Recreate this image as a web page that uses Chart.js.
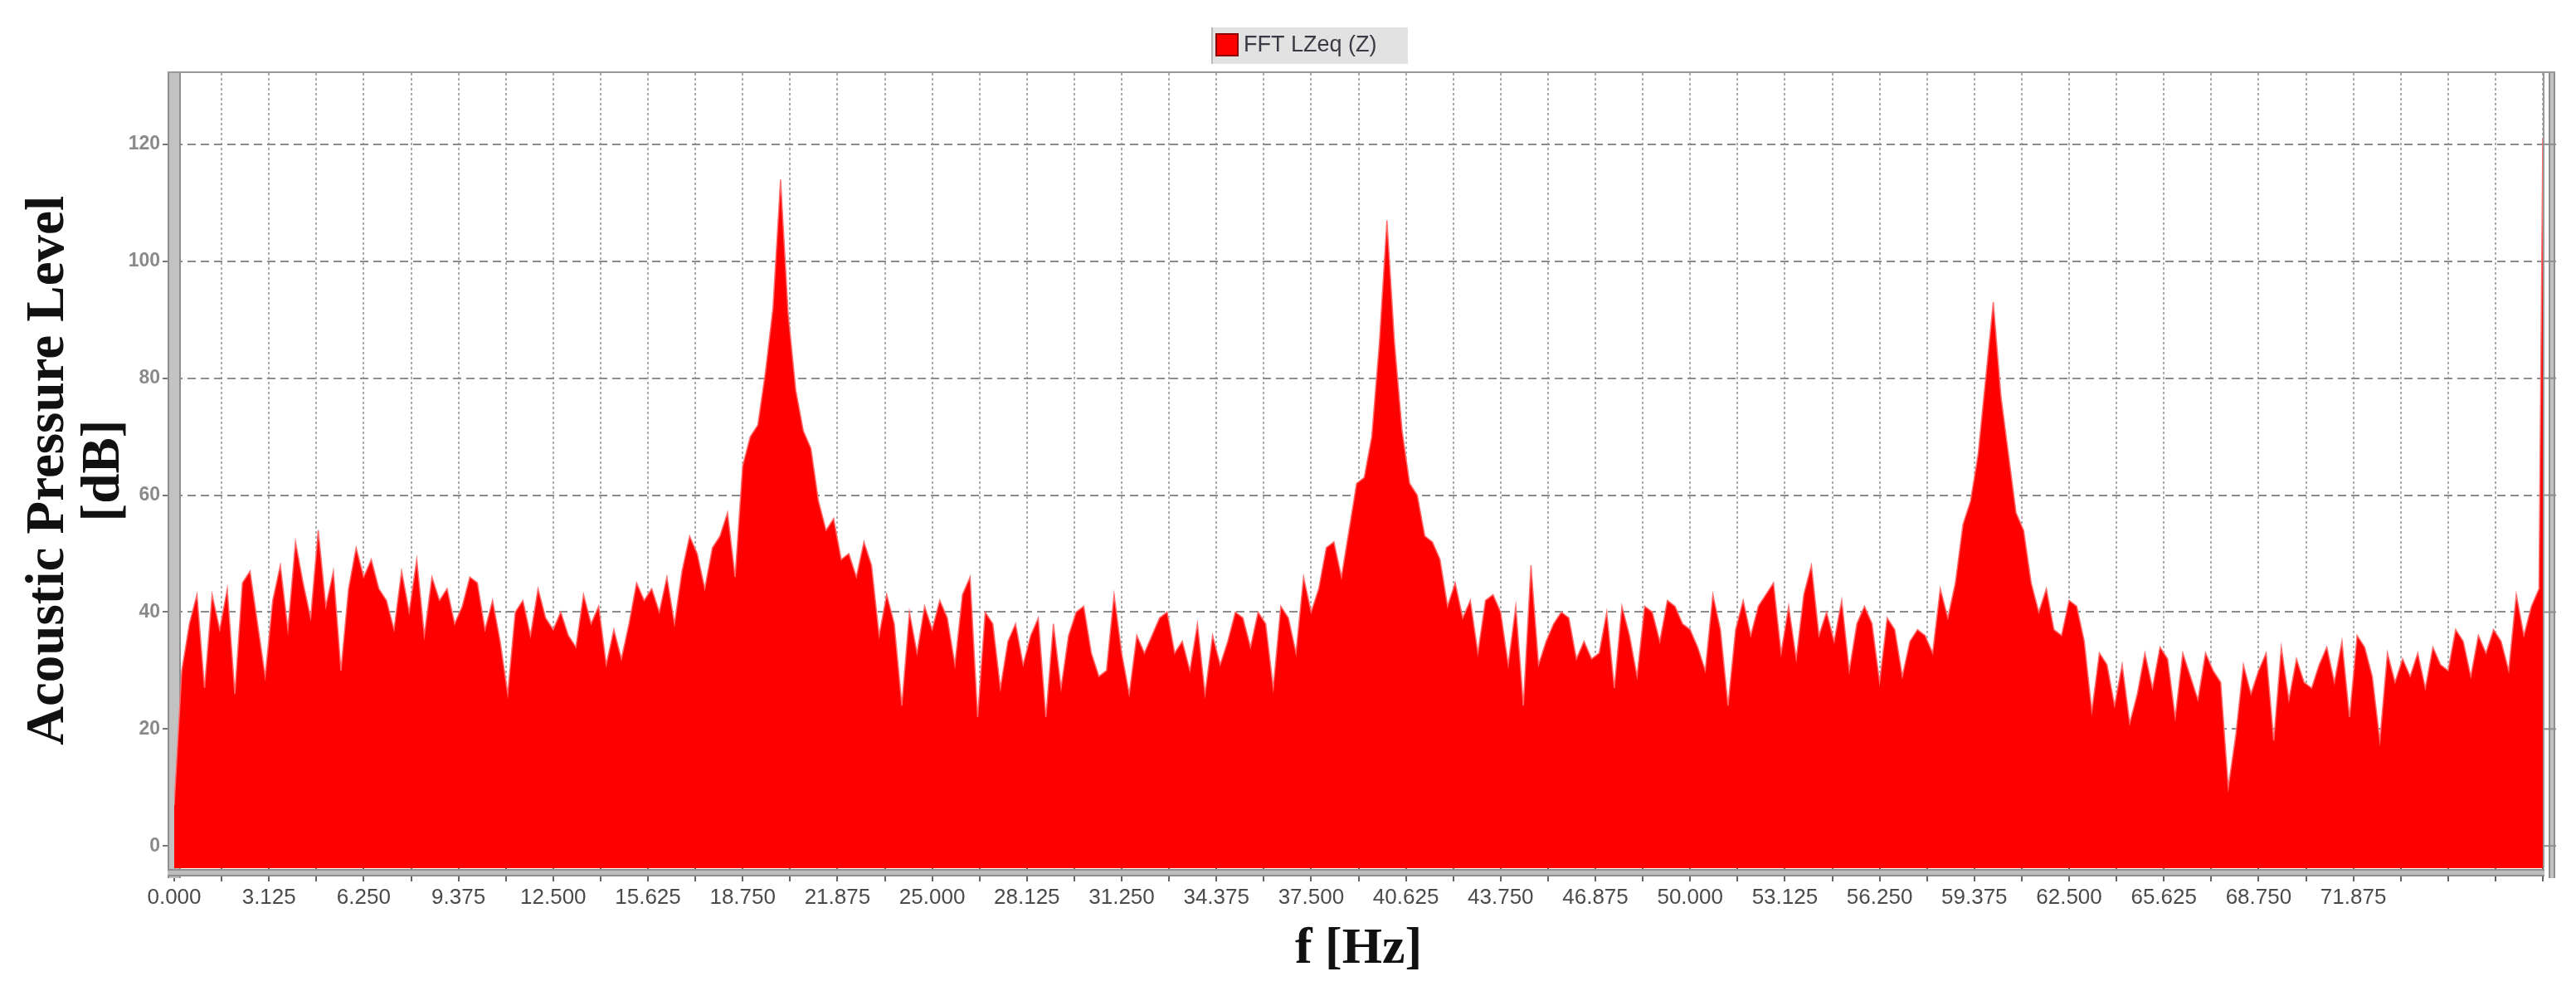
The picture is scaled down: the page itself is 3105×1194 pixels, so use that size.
<!DOCTYPE html>
<html>
<head>
<meta charset="utf-8">
<title>FFT LZeq (Z)</title>
<script src="https://cdn.jsdelivr.net/npm/chart.js@4.4.1/dist/chart.umd.min.js"></script>
<style>
  html, body { margin: 0; padding: 0; background: #fff; }
  #wrap { width: 3105px; height: 1194px; }
</style>
</head>
<body>
<div id="wrap"><canvas id="fft" width="3105" height="1194"></canvas></div>
<script>
/* FFT LZeq (Z) — acoustic pressure level spectrum, 0 … 78.125 Hz */

// one level per 0.25 Hz bin, starting at 0 Hz
const binHz = 0.25;
const levels = [
  // 0 – 15.5 Hz
  7, 30, 38, 43, 27, 43, 37, 44, 26, 45,
  47, 38, 29, 42, 48, 37, 52, 45, 39, 54,
  41, 47, 30, 44, 51, 46, 49, 44, 42, 37,
  47, 40, 49, 36, 46, 42, 44, 38, 41, 46,
  45, 37, 42, 35, 26, 40, 42, 36, 44, 39,
  37, 40, 36, 34, 43, 38, 41, 31, 37, 32,
  38, 45, 42,
  // 15.75 – 31.75 Hz (first harmonic ~20 Hz)
  44, 40, 46, 38, 47, 53, 50, 44, 51, 53,
  57, 46, 65, 70, 72, 81, 92, 114, 91, 78,
  71, 68, 59, 54, 56, 49, 50, 46, 52, 48,
  36, 43, 38, 24, 40, 33, 41, 37, 42, 39,
  31, 43, 46, 22, 40, 38, 27, 35, 38, 31,
  36, 39, 22, 38, 27, 36, 40, 41, 33, 29,
  30, 43, 33, 26, 36,
  // 32 – 47.75 Hz (~40 Hz)
  33, 36, 39, 40, 33, 35, 30, 38, 26, 36,
  31, 35, 40, 39, 34, 40, 38, 27, 41, 39,
  33, 46, 40, 44, 51, 52, 46, 54, 62, 63,
  70, 86, 107, 86, 71, 62, 60, 53, 52, 49,
  41, 45, 39, 42, 33, 42, 43, 40, 31, 41,
  24, 48, 31, 35, 38, 40, 39, 32, 35, 32,
  33, 40, 27, 41,
  // 48 – 64 Hz (~60 Hz)
  36, 29, 41, 40, 35, 42, 41, 38, 37, 34,
  30, 43, 37, 24, 37, 42, 36, 41, 43, 45,
  33, 41, 32, 43, 48, 36, 40, 35, 42, 30,
  38, 41, 38, 28, 39, 37, 29, 35, 37, 36,
  33, 44, 39, 45, 55, 59, 67, 80, 93, 77,
  67, 57, 54, 45, 40, 44, 37, 36, 42, 41,
  35, 23, 33, 31, 24,
  // 64.25 – 78 Hz
  31, 21, 26, 33, 27, 34, 32, 22, 33, 29,
  25, 33, 30, 28, 10, 19, 31, 26, 30, 33,
  18, 34, 25, 32, 28, 27, 31, 34, 28, 35,
  22, 36, 34, 29, 18, 33, 28, 32, 29, 33,
  27, 34, 31, 30, 37, 35, 29, 36, 33, 37,
  35, 30, 43, 36, 41, 44
];
// last bin sits on the upper edge of the band
const edgeHz = 78.125;
const edgeLevel = 121;

const yTicks = [0, 20, 40, 60, 80, 100, 120];
const xTickLabels = [
  '0.000', '3.125', '6.250', '9.375', '12.500', '15.625', '18.750', '21.875',
  '25.000', '28.125', '31.250', '34.375', '37.500', '40.625', '43.750', '46.875',
  '50.000', '53.125', '56.250', '59.375', '62.500', '65.625', '68.750', '71.875'
];

const freqs = levels.map((_, i) => i * binHz).concat(edgeHz);
const spectrum = levels.concat(edgeLevel);
const points = freqs.map((f, i) => ({ x: f, y: spectrum[i] }));

/* ── gray scale bars around the plot ─────────────── */
const frame = {
  id: 'frame',
  beforeDatasetsDraw(chart) {
    const { ctx, chartArea: a } = chart;
    const h = a.bottom - a.top + 12;
    ctx.save();
    ctx.fillStyle = '#c2c2c2';
    ctx.fillRect(a.left - 8, a.top, 16, h);
    ctx.fillStyle = '#8e8e8e';
    ctx.fillRect(a.left - 8, a.top, 2, h);
    ctx.fillRect(a.left + 6, a.top, 2, h);
    ctx.restore();
  },
  afterDatasetsDraw(chart) {
    const { ctx, chartArea: a, scales: { y } } = chart;
    const h = a.bottom - a.top + 12;
    ctx.save();
    ctx.fillStyle = '#9a9a9a';
    ctx.fillRect(a.left - 8, a.top - 2, a.right - a.left + 23, 2);
    ctx.fillRect(a.right, a.top, 2, a.bottom - a.top);
    // right bar + its ticks
    ctx.fillStyle = '#c2c2c2';
    ctx.fillRect(a.right + 7, a.top, 8, h);
    ctx.fillStyle = '#8e8e8e';
    ctx.fillRect(a.right + 7, a.top, 2, h);
    ctx.fillRect(a.right + 13, a.top, 2, h);
    yTicks.forEach(v => {
      const py = y.getPixelForValue(v);
      ctx.fillRect(a.right, py - 1, 16, 2);
    });
    // bottom bar
    ctx.fillStyle = '#bdbdbd';
    ctx.fillRect(a.left - 8, a.bottom + 1, a.right - a.left + 10, 9);
    ctx.fillStyle = '#8e8e8e';
    ctx.fillRect(a.left - 8, a.bottom + 1, a.right - a.left + 10, 2);
    ctx.fillRect(a.left - 8, a.bottom + 8, a.right - a.left + 10, 2);
    ctx.restore();
  }
};

/* ── legend chip at the top ───────────────────────── */
const legendChip = {
  id: 'legendChip',
  afterDraw(chart) {
    const { ctx } = chart;
    const ds = chart.data.datasets[0];
    ctx.save();
    ctx.fillStyle = '#e2e2e2';
    ctx.fillRect(1460, 33, 237, 44);
    ctx.fillStyle = '#b8b8b8';
    ctx.fillRect(1460, 33, 2, 44);
    ctx.fillStyle = ds.backgroundColor;
    ctx.fillRect(1466, 41, 26, 26);
    ctx.strokeStyle = '#8b0000';
    ctx.lineWidth = 2;
    ctx.strokeRect(1466, 41, 26, 26);
    ctx.fillStyle = '#3a3a44';
    ctx.font = '27px "Liberation Sans"';
    ctx.textBaseline = 'middle';
    ctx.fillText(ds.label, 1499, 55);
    ctx.restore();
  }
};

new Chart(document.getElementById('fft'), {
  type: 'line',
  data: {
    datasets: [{
      label: 'FFT LZeq (Z)',
      data: points,
      borderColor: '#ff6a6a',
      backgroundColor: '#ff0000',
      borderWidth: 1.5,
      pointRadius: 0,
      tension: 0,
      fill: 'start'
    }]
  },
  options: {
    responsive: false,
    animation: false,
    devicePixelRatio: 1,
    layout: { padding: { top: 88, right: 40, bottom: 0, left: 0 } },
    plugins: { legend: { display: false }, tooltip: { enabled: false } },
    scales: {
      x: {
        type: 'linear',
        min: 0,
        max: 78.125,
        afterFit: s => { s.height = 148; },
        ticks: {
          stepSize: 1.5625,
          autoSkip: false,
          maxRotation: 0,
          minRotation: 0,
          padding: 4,
          color: '#4a4a4a',
          font: { family: 'Liberation Sans', size: 26 },
          callback: v => {
            const t = Number(v).toFixed(3);
            return xTickLabels.includes(t) ? t : '';
          }
        },
        grid: { color: '#aaaaaa', lineWidth: 2, tickLength: 16, tickColor: '#666', tickWidth: 2 },
        border: { display: false, dash: [3, 3] },
        title: {
          display: true,
          text: 'f [Hz]',
          color: '#111',
          font: { family: 'Liberation Serif', size: 62, weight: 'bold', lineHeight: 1.2 },
          padding: { top: 0, bottom: 13 }
        }
      },
      y: {
        min: -3.8,
        max: 132.2,
        afterFit: s => { s.width = 210; },
        afterBuildTicks: s => { s.ticks = yTicks.map(v => ({ value: v })); },
        ticks: {
          padding: 3,
          color: '#8a8a8a',
          font: { family: 'Liberation Sans', size: 23, weight: 'bold' }
        },
        grid: { color: '#8c8c8c', lineWidth: 2, tickLength: 14, tickColor: '#777', tickWidth: 2 },
        border: { display: false, dash: [10, 6] },
        title: {
          display: true,
          text: ['Acoustic Pressure Level', '[dB]'],
          color: '#111',
          font: { family: 'Liberation Serif', size: 65, weight: 'bold', lineHeight: 1.03 },
          padding: { top: 26, bottom: 0 }
        }
      }
    }
  },
  plugins: [frame, legendChip]
});
</script>
</body>
</html>
